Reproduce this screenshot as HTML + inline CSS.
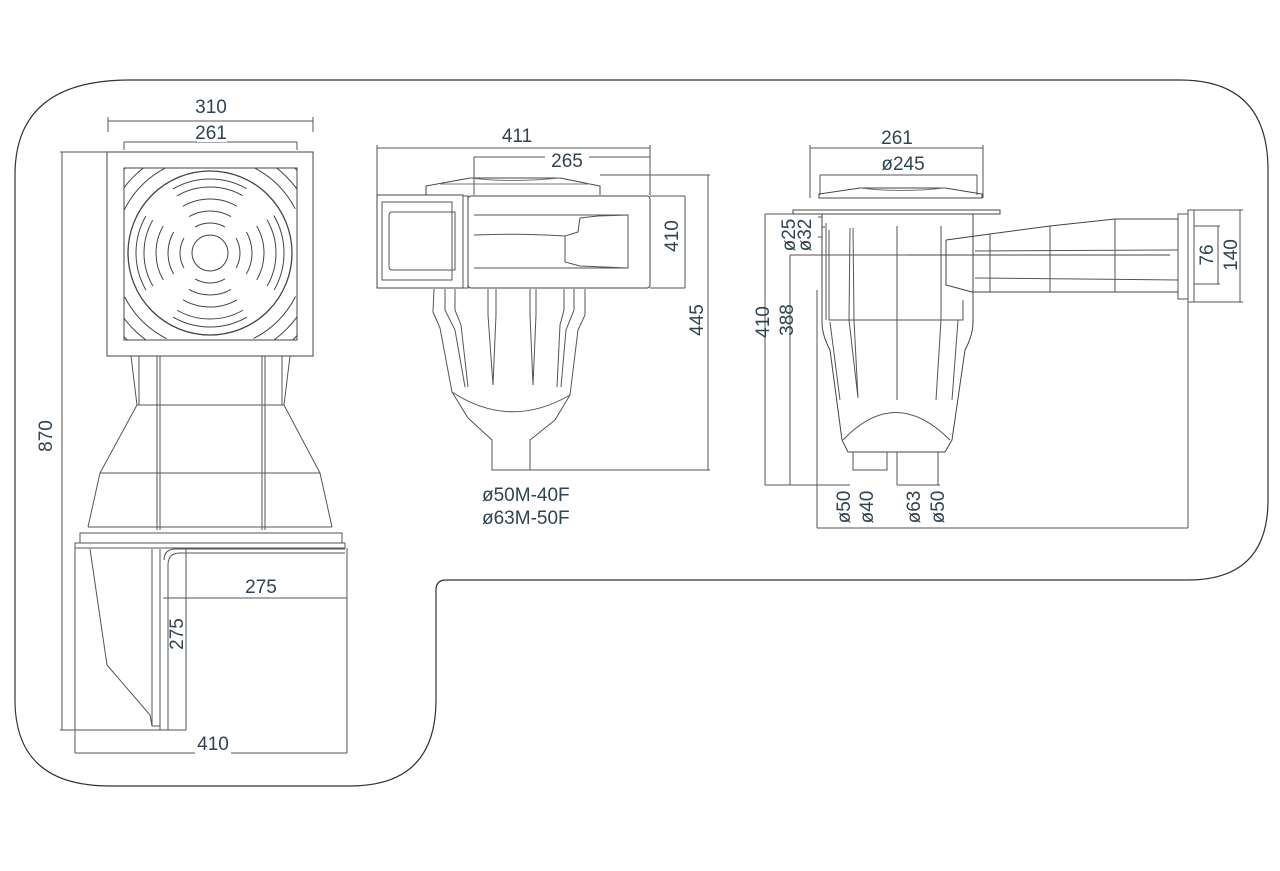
<!DOCTYPE html>
<html><head><meta charset="utf-8"><style>
html,body{margin:0;padding:0;background:#fff;}
svg{display:block;}
text{font-family:"Liberation Sans",sans-serif;fill:#2f4452;font-size:19px;}
</style></head><body>
<svg width="1280" height="871" viewBox="0 0 1280 871" xmlns="http://www.w3.org/2000/svg">
<defs><clipPath id="sq"><rect x="124" y="168" width="173" height="172"/></clipPath></defs>
<path d="M130,80 H1180 Q1268,80 1268,170 V500 Q1268,580 1188,580 H446 Q436,580 436,590 V700 Q436,786 350,786 H110 Q15,786 15,700 V175 Q15,80 130,80 Z" fill="none" stroke="#333" stroke-width="1.2"/>

<g fill="none" stroke="#555" stroke-width="1">
<line x1="108" y1="121" x2="313" y2="121"/><line x1="108" y1="117" x2="108" y2="132"/><line x1="313" y1="117" x2="313" y2="132"/>
<line x1="124" y1="142" x2="297" y2="142"/><line x1="124" y1="142" x2="124" y2="150"/><line x1="297" y1="142" x2="297" y2="150"/>
<line x1="60" y1="152" x2="107" y2="152"/><line x1="62" y1="152" x2="62" y2="730"/>
<rect x="107" y="152" width="206" height="204" stroke="#444"/>
<rect x="124" y="168" width="173" height="172" stroke="#444"/>
<g clip-path="url(#sq)" stroke="#444">
<circle cx="210" cy="253" r="82" stroke-width="1.3"/>
<circle cx="210" cy="253" r="18"/>
<circle cx="210" cy="253" r="30" pathLength="360" stroke-dasharray="60 30" stroke-dashoffset="30"/>
<circle cx="210" cy="253" r="42" pathLength="360" stroke-dasharray="60 30" stroke-dashoffset="30"/>
<circle cx="210" cy="253" r="54" pathLength="360" stroke-dasharray="60 30" stroke-dashoffset="30"/>
<circle cx="210" cy="253" r="66" pathLength="360" stroke-dasharray="60 30" stroke-dashoffset="30"/>
<circle cx="210" cy="253" r="74" pathLength="360" stroke-dasharray="60 30" stroke-dashoffset="30"/>
<circle cx="210" cy="253" r="96" pathLength="360" stroke-dasharray="36 54" stroke-dashoffset="-27"/>
<circle cx="210" cy="253" r="108" pathLength="360" stroke-dasharray="36 54" stroke-dashoffset="-27"/>
<circle cx="210" cy="253" r="120" pathLength="360" stroke-dasharray="36 54" stroke-dashoffset="-27"/>
</g>
<path d="M131,356 L137,405 L100,473 L88,527"/><path d="M139,356 L139,405"/>
<path d="M290,356 L284,405 L320,473 L332,527"/><path d="M282,356 L282,405"/>
<line x1="157" y1="356" x2="157" y2="530"/><line x1="160" y1="356" x2="160" y2="530"/>
<line x1="262" y1="356" x2="262" y2="530"/><line x1="265" y1="356" x2="265" y2="530"/>
<line x1="137" y1="405" x2="284" y2="405"/><line x1="100" y1="473" x2="320" y2="473"/><line x1="88" y1="527" x2="332" y2="527"/>
<rect x="80" y="533" width="262" height="10"/>
<rect x="75" y="543" width="270" height="5"/>
<line x1="75" y1="548" x2="75" y2="753"/>
<line x1="347" y1="548" x2="347" y2="753"/>
<line x1="75" y1="753" x2="347" y2="753"/>
<line x1="60" y1="730" x2="186" y2="730"/>
<path d="M90,549 L107,665 L150,715 L152,726 L160,726"/>
<path d="M152,549 L152,726"/>
<path d="M160,549 V730 M164,560 Q164,549 176,549 H345 M168,730 V565 Q168,553 180,553 H345 M186,549 V730"/>
<line x1="163" y1="598" x2="347" y2="598"/>

<line x1="377" y1="148" x2="650" y2="148"/><line x1="377" y1="145" x2="377" y2="195"/><line x1="650" y1="145" x2="650" y2="195"/>
<line x1="474" y1="157" x2="650" y2="157"/><line x1="474" y1="157" x2="474" y2="195"/>
<line x1="600" y1="175" x2="710" y2="175"/><line x1="708" y1="175" x2="708" y2="470"/>
<line x1="530" y1="470" x2="710" y2="470"/>
<path d="M426,195 V186 L470,178 H560 L600,186 V195" stroke="#444"/>
<path d="M470,178 Q510,183 560,178 M440,184 H590" stroke="#777"/>
<rect x="377" y="195" width="86" height="93" stroke="#444"/>
<path d="M382,202 H452 V280 H382 Z"/>
<path d="M392,212 H455 V270 H392 Q389,270 389,266 V216 Q389,212 392,212 Z"/>
<rect x="463" y="196" width="5" height="92"/>
<rect x="468" y="196" width="182" height="92" rx="3" stroke="#444"/>
<line x1="650" y1="196" x2="685" y2="196"/><line x1="650" y1="288" x2="685" y2="288"/><line x1="685" y1="196" x2="685" y2="288"/>
<path d="M474,215 H628 V268 H474 M474,235 Q520,233 565,236 L578,232 L580,218 L598,216 L628,215 M565,236 L565,262 L580,266 L628,268"/>
<path d="M434,289 L433,312 L440,328 L452,392 L468,418 L492,440 V470 H530 V440 L555,420 L570,395 L578,330 L585,315 L585,289"/>
<path d="M452,392 Q510,430 570,395"/>
<path d="M445,289 V310 L455,330 L465,387 M455,289 V310 L461,325 L468,387 M488,289 V315 L493,385 L496,315 V289 M530,289 V315 L533,385 L536,315 V289 M564,289 V310 L560,325 L557,387 M574,289 V310 L566,330 L561,387"/>

<line x1="810" y1="148" x2="983" y2="148"/><line x1="810" y1="145" x2="810" y2="198"/><line x1="983" y1="145" x2="983" y2="198"/>
<line x1="820" y1="175" x2="977" y2="175"/><line x1="820" y1="175" x2="820" y2="195"/><line x1="977" y1="175" x2="977" y2="195"/>
<path d="M819,198 V194 L860,188 H945 L982,194 V198 H819 Z" stroke="#444"/>
<path d="M860,188 Q900,193 945,188" stroke="#777"/>
<path d="M793,210 H1000 V214 H793 Z" stroke="#444"/>
<line x1="765" y1="214" x2="793" y2="214"/><line x1="765" y1="214" x2="765" y2="485"/>
<line x1="790" y1="255" x2="945" y2="255"/><line x1="790" y1="255" x2="790" y2="485"/>
<line x1="765" y1="485" x2="850" y2="485"/><line x1="897" y1="485" x2="940" y2="485"/>
<path d="M818,217 H822 V237 H818 M822,227 H825"/>
<path d="M822,214 V322 Q822,335 830,350 L842,440 L848,452 H945 L952,440 L965,350 Q973,335 973,322 V214" stroke="#444"/>
<path d="M826,223 V320 M829,230 V320 H963 V300 M850,228 L849,320 L858,398 L854,320 L853,228 M897,226 V400 M941,226 L941,320 L936,400 M958,320 L952,400 M830,322 L840,400"/>
<path d="M843,440 Q895,385 950,440"/>
<path d="M853,452 V470 H887 V452 M897,452 V485 M938,452 V485"/>
<line x1="817" y1="290" x2="817" y2="528"/>
<line x1="817" y1="528" x2="1188" y2="528"/><line x1="1188" y1="300" x2="1188" y2="528"/>
<path d="M908,255 H1170" stroke="#444"/>
<path d="M946,240 L990,234 L1050,226 L1115,219 H1178 M946,240 V285 L972,292 H1178" stroke="#444"/>
<path d="M990,234 V292 M1050,226 V292 M1115,219 V292 M975,251 L1178,250 M975,278 L1178,280"/>
<rect x="1178" y="214" width="10" height="85"/>
<rect x="1188" y="210" width="6" height="92"/>
<line x1="1194" y1="210" x2="1243" y2="210"/><line x1="1194" y1="302" x2="1243" y2="302"/><line x1="1240" y1="210" x2="1240" y2="302"/>
<line x1="1194" y1="226" x2="1220" y2="226"/><line x1="1194" y1="284" x2="1220" y2="284"/><line x1="1218" y1="226" x2="1218" y2="284"/>
</g>

<g>
<rect x="197" y="96" width="30" height="20" fill="#fff"/>
<text x="211" y="113" text-anchor="middle">310</text>
<rect x="197" y="122" width="30" height="20" fill="#fff"/>
<text x="211" y="139" text-anchor="middle">261</text>
<text x="58" y="436" text-anchor="middle" transform="rotate(-90 58 436)" dy="-6">870</text>
<text x="261" y="593" text-anchor="middle">275</text>
<text x="183" y="634" text-anchor="middle" transform="rotate(-90 183 634)">275</text>
<rect x="195" y="735" width="36" height="20" fill="#fff"/>
<text x="213" y="750" text-anchor="middle">410</text>

<rect x="500" y="126" width="34" height="20" fill="#fff"/>
<text x="517" y="142" text-anchor="middle">411</text>
<rect x="545" y="150" width="44" height="14" fill="#fff"/>
<text x="567" y="167" text-anchor="middle">265</text>
<text x="678" y="236" text-anchor="middle" transform="rotate(-90 678 236)">410</text>
<text x="703" y="320" text-anchor="middle" transform="rotate(-90 703 320)">445</text>
<text x="482" y="501">ø50M-40F</text>
<text x="482" y="524">ø63M-50F</text>

<text x="897" y="144" text-anchor="middle">261</text>
<text x="903" y="170" text-anchor="middle">ø245</text>
<text x="769" y="322" text-anchor="middle" transform="rotate(-90 769 322)">410</text>
<text x="793" y="320" text-anchor="middle" transform="rotate(-90 793 320)">388</text>
<text x="795" y="235" text-anchor="middle" transform="rotate(-90 795 235)">ø25</text>
<text x="811" y="235" text-anchor="middle" transform="rotate(-90 811 235)">ø32</text>
<text x="850" y="507" text-anchor="middle" transform="rotate(-90 850 507)">ø50</text>
<text x="873" y="507" text-anchor="middle" transform="rotate(-90 873 507)">ø40</text>
<text x="920" y="507" text-anchor="middle" transform="rotate(-90 920 507)">ø63</text>
<text x="944" y="507" text-anchor="middle" transform="rotate(-90 944 507)">ø50</text>
<text x="1213" y="255" text-anchor="middle" transform="rotate(-90 1213 255)">76</text>
<text x="1237" y="255" text-anchor="middle" transform="rotate(-90 1237 255)">140</text>
</g>
</svg>
</body></html>
